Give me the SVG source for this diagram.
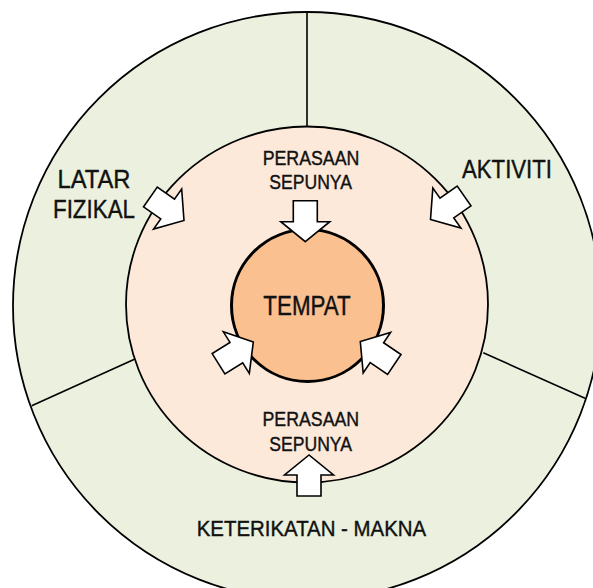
<svg xmlns="http://www.w3.org/2000/svg" xmlns:xlink="http://www.w3.org/1999/xlink" width="593" height="588" viewBox="0 0 593 588">
  <style>
    .ln { stroke: #000; stroke-width: 1.6; fill: none; }
    .txt { font-family: "Liberation Sans Narrow", "Liberation Sans", Arial, sans-serif; fill: #111; stroke: #111; stroke-width: 0.4; }
    .arr { fill: #fff; stroke: #000; stroke-width: 1.6; stroke-linejoin: miter; }
  </style>
  <defs>
    <polygon id="arrow" class="arr" points="0,0 -20,-24.5 -20,-12 -41,-12 -41,12 -20,12 -20,24.5"/>
  </defs>
  <rect width="593" height="588" fill="#fff"/>

  <g id="outer-ring">
    <circle cx="307" cy="306" r="294" fill="#EBF1DE" stroke="#000" stroke-width="1.8"/>
    <line class="ln" x1="307" y1="12" x2="307" y2="127"/>
    <line class="ln" x1="31.7" y1="405.7" x2="135" y2="359"/>
    <line class="ln" x1="483.3" y1="352.7" x2="585" y2="398.3"/>
  </g>

  <g id="latar-fizikal">
    <text class="txt" x="57.5" y="188.3" font-size="26" textLength="73" lengthAdjust="spacingAndGlyphs">LATAR</text>
    <text class="txt" x="53" y="218.3" font-size="26" textLength="82" lengthAdjust="spacingAndGlyphs">FIZIKAL</text>
  </g>

  <g id="aktiviti">
    <text class="txt" x="462" y="178.3" font-size="26.5" textLength="90" lengthAdjust="spacingAndGlyphs">AKTIVITI</text>
  </g>

  <g id="keterikatan-makna">
    <text class="txt" x="196.7" y="535.7" font-size="22.5" textLength="229.5" lengthAdjust="spacingAndGlyphs">KETERIKATAN - MAKNA</text>
  </g>

  <g id="perasaan-sepunya">
    <ellipse cx="307" cy="304.5" rx="181" ry="178" fill="#FDE9D9" stroke="#000" stroke-width="1.8"/>
    <text class="txt" x="262.7" y="165" font-size="20.5" textLength="96.6" lengthAdjust="spacingAndGlyphs">PERASAAN</text>
    <text class="txt" x="269.3" y="189" font-size="20.5" textLength="82.7" lengthAdjust="spacingAndGlyphs">SEPUNYA</text>
    <text class="txt" x="262.5" y="426" font-size="20.5" textLength="96.6" lengthAdjust="spacingAndGlyphs">PERASAAN</text>
    <text class="txt" x="269.3" y="451.3" font-size="20.5" textLength="82.7" lengthAdjust="spacingAndGlyphs">SEPUNYA</text>
  </g>

  <g id="tempat">
    <circle cx="307.5" cy="305.5" r="76" fill="#FAC090" stroke="#000" stroke-width="3"/>
    <text class="txt" x="263.3" y="315" font-size="27" textLength="87.4" lengthAdjust="spacingAndGlyphs">TEMPAT</text>
  </g>

  <g id="connectors">
    <use xlink:href="#arrow" transform="translate(305.3,241.7) rotate(90)"/>
    <use xlink:href="#arrow" transform="translate(309,455) rotate(-90)"/>
    <use xlink:href="#arrow" transform="translate(253.3,342) rotate(-32)"/>
    <use xlink:href="#arrow" transform="translate(360.3,341.5) rotate(214)"/>
    <use xlink:href="#arrow" transform="translate(184,220.5) rotate(35)"/>
    <use xlink:href="#arrow" transform="translate(430.5,219.5) rotate(145)"/>
  </g>
</svg>
